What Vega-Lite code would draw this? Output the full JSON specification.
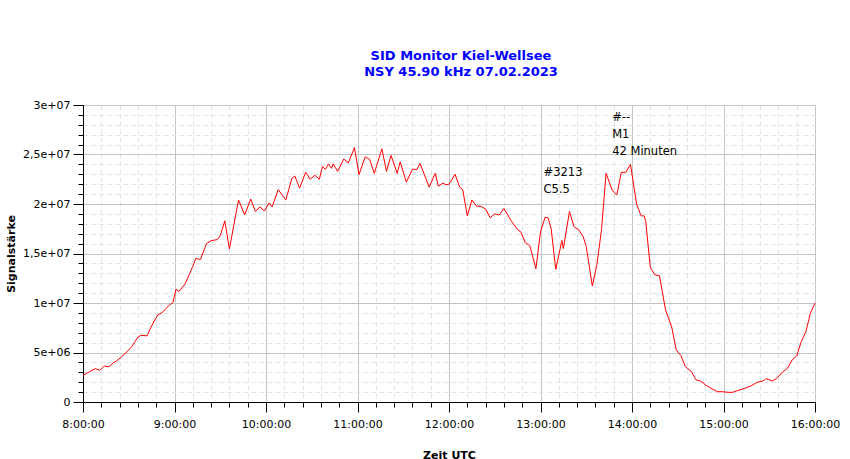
{
  "$schema": "https://vega.github.io/schema/vega-lite/v6.json",
  "width": 732,
  "height": 297,
  "autosize": {"type": "none"},
  "padding": {"left": 83, "top": 105, "right": 35, "bottom": 57},
  "background": "white",
  "config": {"view": {"stroke": null}, "font": "DejaVu Sans"},
  "title": {
    "text": ["SID Monitor Kiel-Wellsee", "NSY 45.90 kHz 07.02.2023"],
    "color": "#0000ff",
    "fontSize": 13,
    "fontWeight": "bold",
    "lineHeight": 16,
    "anchor": "middle",
    "frame": "group",
    "dx": 12,
    "offset": 20
  },
  "resolve": {"axis": {"x": "independent", "y": "independent"}},
  "layer": [
    {
      "data": {
        "format": {"parse": {"t": "date:'%H:%M'"}},
        "values": [
          {"t": "08:00", "v": 2700000},
          {"t": "08:03", "v": 2950000},
          {"t": "08:08", "v": 3370000},
          {"t": "08:11", "v": 3200000},
          {"t": "08:14", "v": 3640000},
          {"t": "08:17", "v": 3550000},
          {"t": "08:20", "v": 3980000},
          {"t": "08:22", "v": 4150000},
          {"t": "08:25", "v": 4520000},
          {"t": "08:28", "v": 4930000},
          {"t": "08:32", "v": 5600000},
          {"t": "08:36", "v": 6550000},
          {"t": "08:38", "v": 6740000},
          {"t": "08:42", "v": 6680000},
          {"t": "08:45", "v": 7690000},
          {"t": "08:49", "v": 8800000},
          {"t": "08:52", "v": 9040000},
          {"t": "08:56", "v": 9710000},
          {"t": "08:59", "v": 10050000},
          {"t": "09:01", "v": 11400000},
          {"t": "09:03", "v": 11160000},
          {"t": "09:07", "v": 11940000},
          {"t": "09:10", "v": 13000000},
          {"t": "09:12", "v": 13700000},
          {"t": "09:14", "v": 14500000},
          {"t": "09:17", "v": 14400000},
          {"t": "09:21", "v": 16000000},
          {"t": "09:24", "v": 16300000},
          {"t": "09:28", "v": 16400000},
          {"t": "09:30", "v": 16800000},
          {"t": "09:33", "v": 18300000},
          {"t": "09:36", "v": 15450000},
          {"t": "09:40", "v": 18800000},
          {"t": "09:42", "v": 20400000},
          {"t": "09:46", "v": 18900000},
          {"t": "09:50", "v": 20500000},
          {"t": "09:53", "v": 19250000},
          {"t": "09:56", "v": 19700000},
          {"t": "09:59", "v": 19300000},
          {"t": "10:02", "v": 20100000},
          {"t": "10:04", "v": 19700000},
          {"t": "10:08", "v": 21450000},
          {"t": "10:13", "v": 20400000},
          {"t": "10:17", "v": 22600000},
          {"t": "10:19", "v": 22800000},
          {"t": "10:22", "v": 21600000},
          {"t": "10:26", "v": 23200000},
          {"t": "10:29", "v": 22500000},
          {"t": "10:32", "v": 22900000},
          {"t": "10:35", "v": 22500000},
          {"t": "10:37", "v": 23800000},
          {"t": "10:39", "v": 23500000},
          {"t": "10:41", "v": 24050000},
          {"t": "10:43", "v": 23600000},
          {"t": "10:44", "v": 24050000},
          {"t": "10:47", "v": 23300000},
          {"t": "10:51", "v": 24550000},
          {"t": "10:54", "v": 24150000},
          {"t": "10:58", "v": 25700000},
          {"t": "11:01", "v": 22970000},
          {"t": "11:05", "v": 24760000},
          {"t": "11:08", "v": 24500000},
          {"t": "11:11", "v": 23100000},
          {"t": "11:16", "v": 25570000},
          {"t": "11:19", "v": 23300000},
          {"t": "11:22", "v": 24900000},
          {"t": "11:26", "v": 23100000},
          {"t": "11:28", "v": 24250000},
          {"t": "11:32", "v": 22200000},
          {"t": "11:36", "v": 23500000},
          {"t": "11:39", "v": 23500000},
          {"t": "11:41", "v": 24100000},
          {"t": "11:47", "v": 21700000},
          {"t": "11:51", "v": 23100000},
          {"t": "11:53", "v": 21800000},
          {"t": "11:56", "v": 22100000},
          {"t": "11:58", "v": 21950000},
          {"t": "12:00", "v": 22000000},
          {"t": "12:04", "v": 23000000},
          {"t": "12:07", "v": 21700000},
          {"t": "12:09", "v": 21450000},
          {"t": "12:12", "v": 18800000},
          {"t": "12:15", "v": 20400000},
          {"t": "12:18", "v": 19800000},
          {"t": "12:21", "v": 19750000},
          {"t": "12:24", "v": 19500000},
          {"t": "12:27", "v": 18600000},
          {"t": "12:30", "v": 19000000},
          {"t": "12:33", "v": 18900000},
          {"t": "12:36", "v": 19550000},
          {"t": "12:41", "v": 18250000},
          {"t": "12:45", "v": 17400000},
          {"t": "12:47", "v": 17200000},
          {"t": "12:50", "v": 16100000},
          {"t": "12:53", "v": 15800000},
          {"t": "12:57", "v": 13460000},
          {"t": "13:00", "v": 17200000},
          {"t": "13:03", "v": 18650000},
          {"t": "13:05", "v": 18600000},
          {"t": "13:07", "v": 17500000},
          {"t": "13:10", "v": 13400000},
          {"t": "13:14", "v": 16300000},
          {"t": "13:15", "v": 15500000},
          {"t": "13:19", "v": 19250000},
          {"t": "13:22", "v": 17700000},
          {"t": "13:25", "v": 17400000},
          {"t": "13:28", "v": 16700000},
          {"t": "13:30", "v": 15700000},
          {"t": "13:34", "v": 11700000},
          {"t": "13:37", "v": 13900000},
          {"t": "13:40", "v": 17400000},
          {"t": "13:43", "v": 23100000},
          {"t": "13:47", "v": 21400000},
          {"t": "13:50", "v": 20900000},
          {"t": "13:53", "v": 23200000},
          {"t": "13:56", "v": 23200000},
          {"t": "13:59", "v": 24000000},
          {"t": "14:03", "v": 20000000},
          {"t": "14:06", "v": 18800000},
          {"t": "14:08", "v": 18800000},
          {"t": "14:09", "v": 18250000},
          {"t": "14:12", "v": 13600000},
          {"t": "14:15", "v": 12850000},
          {"t": "14:18", "v": 12750000},
          {"t": "14:22", "v": 9300000},
          {"t": "14:26", "v": 7600000},
          {"t": "14:29", "v": 5260000},
          {"t": "14:32", "v": 4700000},
          {"t": "14:35", "v": 3570000},
          {"t": "14:39", "v": 3070000},
          {"t": "14:42", "v": 2230000},
          {"t": "14:45", "v": 2120000},
          {"t": "14:49", "v": 1650000},
          {"t": "14:53", "v": 1280000},
          {"t": "14:56", "v": 1040000},
          {"t": "14:59", "v": 1040000},
          {"t": "15:03", "v": 980000},
          {"t": "15:06", "v": 980000},
          {"t": "15:09", "v": 1140000},
          {"t": "15:14", "v": 1380000},
          {"t": "15:18", "v": 1620000},
          {"t": "15:22", "v": 1990000},
          {"t": "15:26", "v": 2120000},
          {"t": "15:28", "v": 2360000},
          {"t": "15:32", "v": 2120000},
          {"t": "15:35", "v": 2400000},
          {"t": "15:39", "v": 3070000},
          {"t": "15:42", "v": 3410000},
          {"t": "15:45", "v": 4250000},
          {"t": "15:48", "v": 4650000},
          {"t": "15:51", "v": 6100000},
          {"t": "15:54", "v": 7100000},
          {"t": "15:57", "v": 8970000},
          {"t": "16:00", "v": 10000000}
        ]
      },
      "mark": {"type": "line", "color": "#ff0000", "strokeWidth": 1},
      "encoding": {
        "x": {
          "field": "t",
          "type": "temporal",
          "scale": {"nice": false},
          "axis": {
            "orient": "bottom",
            "title": null,
            "labels": false,
            "domain": false,
            "values": [
              {"year": 1900, "month": 1, "date": 1, "hours": 8, "minutes": 0},
              {"year": 1900, "month": 1, "date": 1, "hours": 8, "minutes": 12},
              {"year": 1900, "month": 1, "date": 1, "hours": 8, "minutes": 24},
              {"year": 1900, "month": 1, "date": 1, "hours": 8, "minutes": 36},
              {"year": 1900, "month": 1, "date": 1, "hours": 8, "minutes": 48},
              {"year": 1900, "month": 1, "date": 1, "hours": 9, "minutes": 0},
              {"year": 1900, "month": 1, "date": 1, "hours": 9, "minutes": 12},
              {"year": 1900, "month": 1, "date": 1, "hours": 9, "minutes": 24},
              {"year": 1900, "month": 1, "date": 1, "hours": 9, "minutes": 36},
              {"year": 1900, "month": 1, "date": 1, "hours": 9, "minutes": 48},
              {"year": 1900, "month": 1, "date": 1, "hours": 10, "minutes": 0},
              {"year": 1900, "month": 1, "date": 1, "hours": 10, "minutes": 12},
              {"year": 1900, "month": 1, "date": 1, "hours": 10, "minutes": 24},
              {"year": 1900, "month": 1, "date": 1, "hours": 10, "minutes": 36},
              {"year": 1900, "month": 1, "date": 1, "hours": 10, "minutes": 48},
              {"year": 1900, "month": 1, "date": 1, "hours": 11, "minutes": 0},
              {"year": 1900, "month": 1, "date": 1, "hours": 11, "minutes": 12},
              {"year": 1900, "month": 1, "date": 1, "hours": 11, "minutes": 24},
              {"year": 1900, "month": 1, "date": 1, "hours": 11, "minutes": 36},
              {"year": 1900, "month": 1, "date": 1, "hours": 11, "minutes": 48},
              {"year": 1900, "month": 1, "date": 1, "hours": 12, "minutes": 0},
              {"year": 1900, "month": 1, "date": 1, "hours": 12, "minutes": 12},
              {"year": 1900, "month": 1, "date": 1, "hours": 12, "minutes": 24},
              {"year": 1900, "month": 1, "date": 1, "hours": 12, "minutes": 36},
              {"year": 1900, "month": 1, "date": 1, "hours": 12, "minutes": 48},
              {"year": 1900, "month": 1, "date": 1, "hours": 13, "minutes": 0},
              {"year": 1900, "month": 1, "date": 1, "hours": 13, "minutes": 12},
              {"year": 1900, "month": 1, "date": 1, "hours": 13, "minutes": 24},
              {"year": 1900, "month": 1, "date": 1, "hours": 13, "minutes": 36},
              {"year": 1900, "month": 1, "date": 1, "hours": 13, "minutes": 48},
              {"year": 1900, "month": 1, "date": 1, "hours": 14, "minutes": 0},
              {"year": 1900, "month": 1, "date": 1, "hours": 14, "minutes": 12},
              {"year": 1900, "month": 1, "date": 1, "hours": 14, "minutes": 24},
              {"year": 1900, "month": 1, "date": 1, "hours": 14, "minutes": 36},
              {"year": 1900, "month": 1, "date": 1, "hours": 14, "minutes": 48},
              {"year": 1900, "month": 1, "date": 1, "hours": 15, "minutes": 0},
              {"year": 1900, "month": 1, "date": 1, "hours": 15, "minutes": 12},
              {"year": 1900, "month": 1, "date": 1, "hours": 15, "minutes": 24},
              {"year": 1900, "month": 1, "date": 1, "hours": 15, "minutes": 36},
              {"year": 1900, "month": 1, "date": 1, "hours": 15, "minutes": 48},
              {"year": 1900, "month": 1, "date": 1, "hours": 16, "minutes": 0}
            ],
            "tickSize": 5,
            "tickColor": "black",
            "grid": true,
            "gridColor": "#e4e4e4",
            "gridDash": [5, 3]
          }
        },
        "y": {
          "field": "v",
          "type": "quantitative",
          "scale": {"domain": [0, 30000000], "nice": false},
          "axis": {
            "orient": "left",
            "title": null,
            "labels": false,
            "domain": false,
            "values": [0, 1000000, 2000000, 3000000, 4000000, 5000000, 6000000, 7000000, 8000000, 9000000, 10000000, 11000000, 12000000, 13000000, 14000000, 15000000, 16000000, 17000000, 18000000, 19000000, 20000000, 21000000, 22000000, 23000000, 24000000, 25000000, 26000000, 27000000, 28000000, 29000000, 30000000],
            "tickSize": 5,
            "tickColor": "black",
            "grid": true,
            "gridColor": "#e4e4e4",
            "gridDash": [5, 3]
          }
        }
      }
    },
    {
      "data": {
        "format": {"parse": {"t": "date:'%H:%M'"}},
        "values": [
          {"t": "13:47", "v": 28430000, "label": "#--\nM1\n42 Minuten"},
          {"t": "13:02", "v": 22870000, "label": "#3213\nC5.5"}
        ]
      },
      "mark": {
        "type": "text",
        "align": "left",
        "baseline": "alphabetic",
        "fontSize": 11.5,
        "lineBreak": "\n",
        "lineHeight": 17,
        "color": "black"
      },
      "encoding": {
        "x": {
          "field": "t",
          "type": "temporal",
          "axis": {
            "orient": "bottom",
            "title": "Zeit UTC",
            "tickCount": 8,
            "format": "%-H:%M:%S",
            "labelFlush": false,
            "labelFontSize": 11,
            "labelColor": "black",
            "labelPadding": 6,
            "tickSize": 10,
            "tickColor": "black",
            "domainColor": "black",
            "grid": true,
            "gridColor": "#c4c4c4",
            "titleFontSize": 11,
            "titleFontWeight": "bold",
            "titleColor": "black",
            "titlePadding": 20
          }
        },
        "y": {
          "field": "v",
          "type": "quantitative",
          "axis": {
            "orient": "left",
            "title": "Signalstärke",
            "values": [0, 5000000, 10000000, 15000000, 20000000, 25000000, 30000000],
            "labelExpr": "datum.value == 0 ? '0' : (datum.value < 10000000 ? replace(format(datum.value / 1000000, '.2~f'), '.', ',') + 'e+06' : replace(format(datum.value / 10000000, '.2~f'), '.', ',') + 'e+07')",
            "labelFontSize": 11,
            "labelColor": "black",
            "labelPadding": 3,
            "tickSize": 10,
            "tickColor": "black",
            "domainColor": "black",
            "grid": true,
            "gridColor": "#c4c4c4",
            "titleFontSize": 11,
            "titleFontWeight": "bold",
            "titleColor": "black",
            "titlePadding": 6
          }
        },
        "text": {"field": "label"}
      }
    }
  ]
}
